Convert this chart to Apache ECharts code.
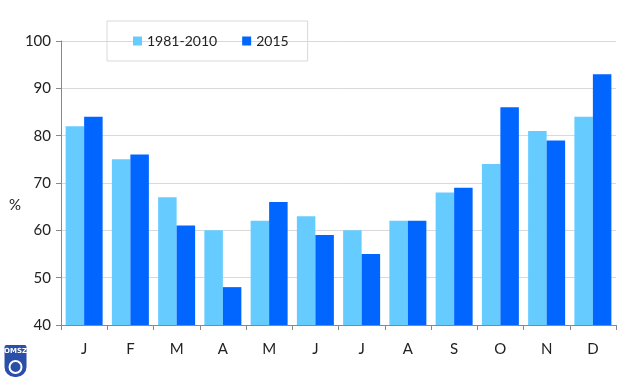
<!DOCTYPE html>
<html><head><meta charset="utf-8">
<script src="https://cdn.jsdelivr.net/npm/echarts@6/dist/echarts.min.js"></script>
<style>html,body{margin:0;padding:0;background:#fff}#c{width:640px;height:380px}</style>
</head><body><div id="c"></div>
<script>
const months = ['J','F','M','A','M','J','J','A','S','O','N','D'];
const normal = [82,75,67,60,62,63,60,62,68,74,81,84];
const y2015 = [84,76,61,48,66,59,55,62,69,86,79,93];
const yTicks = [40,50,60,70,80,90,100];
const seriesNames = ['1981-2010','2015'];
const unitLabel = '%';

const chart = echarts.init(document.getElementById('c'));
const font = 'Lato, Open Sans, sans-serif';
chart.setOption({
  animation:false,
  grid:{left:61,right:24,top:41,bottom:55},
  legend:{
    data:seriesNames, left:107, top:21,
    padding:[13,19,13,26], itemGap:25,
    borderColor:'#d9d9d9', borderWidth:1,
    itemWidth:9, itemHeight:9, icon:'rect',
    textStyle:{fontSize:14,color:'#222',fontFamily:font}
  },
  xAxis:{
    type:'category', data:months,
    axisLine:{lineStyle:{color:'#888',width:1}},
    axisTick:{show:true,length:5,lineStyle:{color:'#888'}},
    axisLabel:{fontSize:15,color:'#222',margin:17,fontFamily:font}
  },
  yAxis:{
    type:'value', min:yTicks[0], max:yTicks[yTicks.length-1], interval:10,
    axisLine:{show:true,lineStyle:{color:'#888'}},
    axisTick:{show:true,length:5,lineStyle:{color:'#888'}},
    splitLine:{lineStyle:{color:'#d9d9d9'}},
    axisLabel:{fontSize:15,color:'#222',margin:10,fontFamily:font}
  },
  series:[
    {name:seriesNames[0],type:'bar',data:normal,barGap:'0%',barCategoryGap:'20%',
     itemStyle:{color:'#66CCFF'}},
    {name:seriesNames[1],type:'bar',data:y2015,
     itemStyle:{color:'#0066FF'}}
  ],
  graphic:[
    {type:'text',left:9,top:198,style:{text:unitLabel,fill:'#222',fontSize:15,fontFamily:font}},
    {type:'group',left:4,top:345,children:[
      {type:'rect',shape:{x:0,y:0,width:22,height:32,r:[2,2,10,10]},style:{fill:'#2a4fa8'}},
      {type:'text',style:{x:11,y:3,text:'OMSZ',fill:'#fff',fontSize:7,fontWeight:'bold',align:'center',fontFamily:'DejaVu Sans'}},
      {type:'circle',shape:{cx:11,cy:22,r:6},style:{fill:'none',stroke:'#fff',lineWidth:2}}
    ]}
  ]
});
</script></body></html>
